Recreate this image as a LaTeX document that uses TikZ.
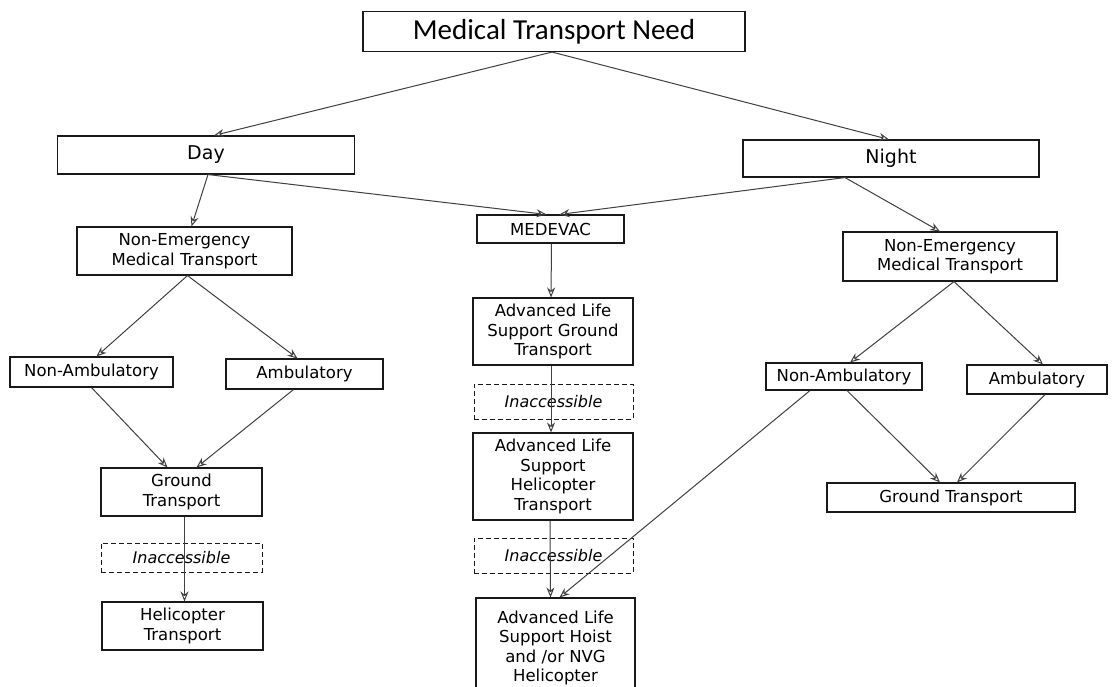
\documentclass[tikz,border=0pt]{standalone}
\usepackage{fontspec}
\setmainfont{DejaVu Sans}
\newfontfamily\topfont{Carlito}
\usetikzlibrary{arrows.meta}
\begin{document}
\begin{tikzpicture}[x=1pt,y=-1pt,
  box/.style={draw=black!90, line width=1.1pt, inner sep=0pt, align=center,
    font=\fontsize{16.5}{19.5}\selectfont, text=black},
  dbox/.style={box, line width=1pt, dash pattern=on 5pt off 3pt, font=\fontsize{16}{19}\selectfont\itshape},
  bigbox/.style={box, font=\fontsize{19}{22}\selectfont},
  conn/.style={draw=black!75, line width=1pt, -{Stealth[open, length=10pt, width=8pt]}}]
\useasboundingbox (0,0) rectangle (1117,686);
\clip (0,0) rectangle (1117,686);
\fill[white] (0,0) rectangle (1117,686);

% top level
\node[box, font=\topfont\fontsize{29}{32}\selectfont, minimum width=382pt, minimum height=40pt] (top) at (554,31.5) {Medical Transport Need};
\node[bigbox, minimum width=297pt, minimum height=38pt] (day) at (206,155) {Day};
\node[bigbox, minimum width=296pt, minimum height=37pt] (night) at (891,158.5) {Night};

% left branch
\node[box, minimum width=215pt, minimum height=48pt] (nemtL) at (184.5,251) {Non-Emergency\\Medical Transport};
\node[box, minimum width=163pt, minimum height=30pt] (nonambL) at (91.5,372) {Non-Ambulatory};
\node[box, minimum width=157pt, minimum height=30pt] (ambL) at (304.5,374) {Ambulatory};
\node[box, minimum width=161pt, minimum height=48pt] (groundL) at (181.5,492) {Ground\\Transport};
\node[dbox, minimum width=161pt, minimum height=29pt] (inaccL) at (181.5,557.5) {Inaccessible};
\node[box, minimum width=161pt, minimum height=48pt] (heliL) at (182.5,626) {Helicopter\\Transport};

% middle branch
\node[box, minimum width=147pt, minimum height=28pt] (medevac) at (550.5,229) {MEDEVAC};
\node[box, minimum width=160pt, minimum height=67pt] (alsG) at (553,331.5) {Advanced Life\\Support Ground\\Transport};
\node[dbox, minimum width=159pt, minimum height=35pt] (inacc1) at (553.5,401.5) {Inaccessible};
\node[box, minimum width=160pt, minimum height=87pt] (alsH) at (553,476.5) {Advanced Life\\Support\\Helicopter\\Transport};
\node[dbox, minimum width=159pt, minimum height=35pt] (inacc2) at (553.5,555.5) {Inaccessible};
\node[box, minimum width=159pt, minimum height=100pt] (hoist) at (555.5,648) {Advanced Life\\Support Hoist\\and /or NVG\\Helicopter};

% right branch
\node[box, minimum width=214pt, minimum height=49pt] (nemtR) at (950,256.5) {Non-Emergency\\Medical Transport};
\node[box, minimum width=156pt, minimum height=27pt] (nonambR) at (844,376.5) {Non-Ambulatory};
\node[box, minimum width=140pt, minimum height=29pt] (ambR) at (1037,379.5) {Ambulatory};
\node[box, minimum width=248pt, minimum height=29pt] (groundR) at (951,497.5) {Ground Transport};

% connectors
\draw[conn] ([xshift=-2pt]top.south) -- ([xshift=8pt]day.north);
\draw[conn] ([xshift=-2pt]top.south) -- ([xshift=-2pt]night.north);
\draw[conn] ([xshift=2pt]day.south) -- ([xshift=7pt]nemtL.north);
\draw[conn] ([xshift=2pt]day.south) -- ([xshift=-4pt]medevac.north);
\draw[conn] ([xshift=-46pt]night.south) -- ([xshift=9pt]medevac.north);
\draw[conn] ([xshift=-46pt]night.south) -- ([xshift=-10pt]nemtR.north);

\draw[conn] ([xshift=3pt]nemtL.south) -- ([xshift=5pt]nonambL.north);
\draw[conn] ([xshift=3pt]nemtL.south) -- ([xshift=-7pt]ambL.north);
\draw[conn] (nonambL.south) -- ([xshift=-14pt]groundL.north);
\draw[conn] ([xshift=-11pt]ambL.south) -- ([xshift=15pt]groundL.north);
\draw[conn] ([xshift=3pt]groundL.south) -- ([xshift=2pt]heliL.north);

\draw[conn] ([xshift=1pt]medevac.south) -- ([xshift=-2pt]alsG.north);
\draw[conn] ([xshift=-2pt]alsG.south) -- ([xshift=-2pt]alsH.north);
\draw[conn] ([xshift=-3pt]alsH.south) -- ([xshift=-5pt]hoist.north);

\draw[conn] ([xshift=4pt]nemtR.south) -- ([xshift=6pt]nonambR.north);
\draw[conn] ([xshift=4pt]nemtR.south) -- ([xshift=6pt]ambR.north);
\draw[conn] ([xshift=3pt]nonambR.south) -- ([xshift=-11pt]groundR.north);
\draw[conn] ([xshift=8pt]ambR.south) -- ([xshift=6pt]groundR.north);
\draw[conn] ([xshift=-34pt]nonambR.south) -- ([xshift=4pt]hoist.north);
\end{tikzpicture}
\end{document}
